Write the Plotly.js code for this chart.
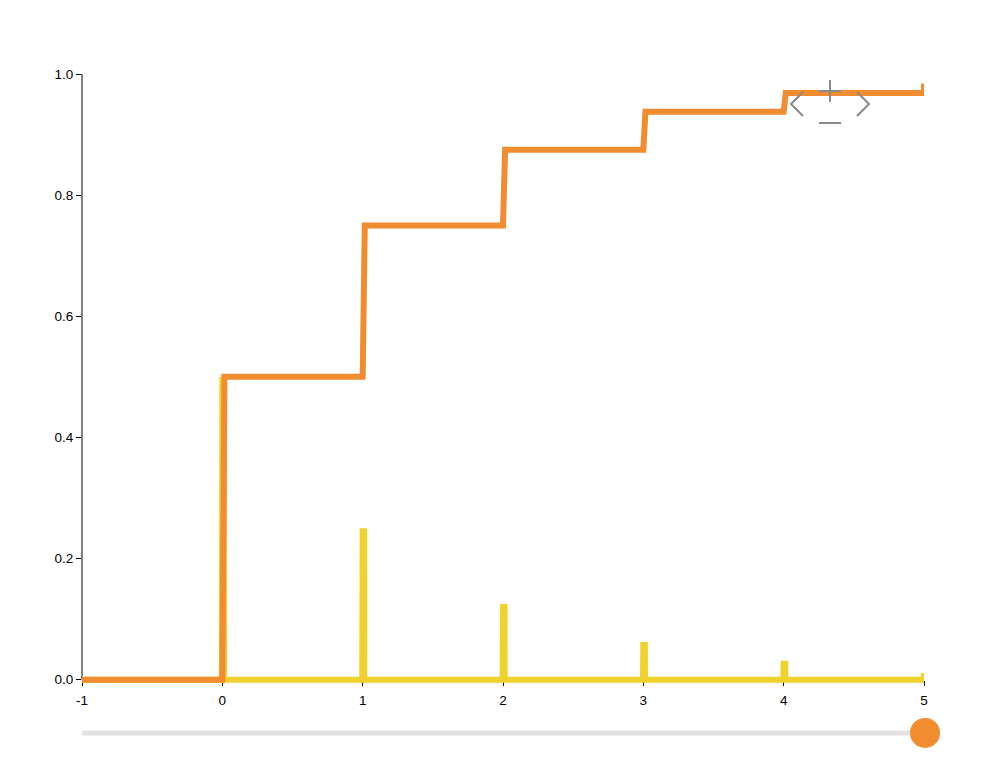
<!DOCTYPE html>
<html>
<head>
<meta charset="utf-8">
<script src="https://cdn.plot.ly/plotly-3.0.1.min.js"></script>
<style>
  html, body { margin: 0; padding: 0; background: #fff; }
  #chart { width: 992px; height: 773px; }
</style>
</head>
<body>
<div id="chart"></div>
<script>
// Data: geometric distribution (p = 0.5)
const ks = [0, 1, 2, 3, 4, 5];
const pmf = [0.5, 0.25, 0.125, 0.0625, 0.03125, 0.015625];
const cdf = [0.5, 0.75, 0.875, 0.9375, 0.96875, 0.984375];
const xTicks = [-1, 0, 1, 2, 3, 4, 5];
const yTicks = [0, 0.2, 0.4, 0.6, 0.8, 1.0];

const ORANGE = '#F18D30';
const YELLOW = '#F0D22E';
const step = 0.015;
const yPad = 0.012;   // room below 0 so the baseline stroke is not clipped
const halfStroke = 0.005; // half the 6px stroke, in y units, so spike tops sit on their value

// CDF step line
const cx = [-1], cy = [0];
let prev = 0;
ks.forEach((k, i) => {
  const k2 = Math.min(k + step, 5);
  cx.push(k, k2); cy.push(prev, cdf[i]);
  prev = cdf[i];
});

// PMF spikes
const px = [-1], py = [0];
ks.forEach((k, i) => {
  const top = Math.max(pmf[i] - halfStroke, 0.004);
  if (k < 5) { px.push(k - 0.003, k, k + 0.011, k + 0.012); py.push(0, top, top, 0); }
  else { px.push(k - 0.004, k); py.push(0, top); }
});

const traces = [
  { x: px, y: py, type: 'scatter', mode: 'lines', line: { color: YELLOW, width: 6 }, hoverinfo: 'skip' },
  { x: cx, y: cy, type: 'scatter', mode: 'lines', line: { color: ORANGE, width: 6 }, hoverinfo: 'skip' }
];

const GRAY = '#8a8a8a';
const ctrl = (path) => ({
  type: 'path', xref: 'paper', yref: 'paper', xsizemode: 'pixel', ysizemode: 'pixel',
  xanchor: 1, yanchor: 1, path: path, line: { color: GRAY, width: 2 }
});
const sliderY = -0.075;
const FS = 13.5;

const layout = {
  width: 992, height: 773,
  margin: { l: 82, r: 68, t: 74, b: 86 },
  paper_bgcolor: '#fff', plot_bgcolor: '#fff',
  showlegend: false,
  font: { family: 'Liberation Sans, Arial, sans-serif', size: FS, color: '#000' },
  xaxis: {
    range: [-1, 5], tickvals: xTicks, ticktext: xTicks.map(String),
    anchor: 'free', position: yPad / (1 + yPad), layer: 'below traces',
    showgrid: false, zeroline: false, showline: true, linecolor: '#000', linewidth: 1,
    ticks: 'outside', ticklen: 5, tickcolor: '#000', ticklabelstandoff: 3,
    tickfont: { size: FS, color: '#000' }
  },
  yaxis: {
    range: [-yPad, 1], tickvals: yTicks, ticktext: yTicks.map(v => v.toFixed(1)),
    layer: 'below traces',
    showgrid: false, zeroline: false, showline: false,
    ticks: 'outside', ticklen: 5, tickcolor: '#000', tickfont: { size: FS, color: '#000' }
  },
  shapes: [
    // y axis line (from 0 to 1 only)
    { type: 'line', xref: 'paper', yref: 'y', x0: 0, x1: 0, y0: 0, y1: 1, layer: 'below',
      line: { color: '#000', width: 1 } },
    // slider track
    { type: 'line', xref: 'paper', yref: 'paper', x0: 0, x1: 1, y0: sliderY, y1: sliderY,
      line: { color: '#e2e2e2', width: 5 } },
    // slider handle
    { type: 'circle', xref: 'paper', yref: 'paper', xsizemode: 'pixel', ysizemode: 'pixel',
      xanchor: 1, yanchor: sliderY, x0: -14, x1: 16, y0: -15, y1: 15,
      fillcolor: ORANGE, line: { width: 0 } },
    // zoom/navigation control
    ctrl('M -105 -17 L -83 -17'),
    ctrl('M -94 -6 L -94 -28'),
    ctrl('M -121 -18 L -133 -30 L -121 -42'),
    ctrl('M -67 -18 L -55 -30 L -67 -42'),
    ctrl('M -105 -49 L -83 -49')
  ]
};

Plotly.newPlot('chart', traces, layout, { displayModeBar: false, staticPlot: true });
</script>
</body>
</html>
